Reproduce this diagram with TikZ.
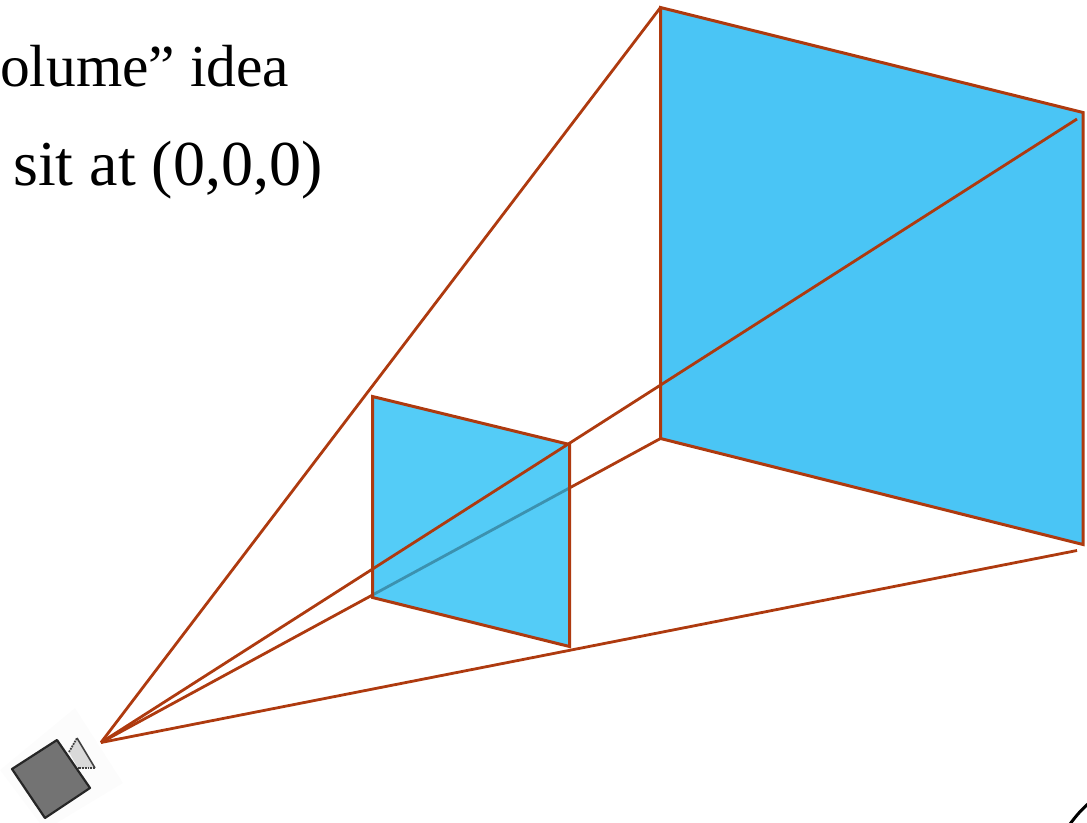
\documentclass[tikz,border=0pt]{standalone}
\usepackage{fontspec}
\setmainfont{Liberation Serif}
\definecolor{frustumline}{RGB}{174,58,15}
\definecolor{farblue}{RGB}{74,197,245}
\definecolor{nearblue}{RGB}{12,182,243}
\begin{document}
\begin{tikzpicture}[
  x=1pt, y=-1pt,
  frustum/.style={draw=frustumline, line width=3pt, line join=miter},
  ray/.style={draw=frustumline, line width=2.8pt},
  caption/.style={anchor=base west, inner sep=0pt},
  camera_body/.style={draw=black!85, fill=black!55, line width=2.2pt, line join=round},
  camera_lens/.style={fill=black!15}
]
  \useasboundingbox (0,0) rectangle (1087,822);
  \clip (0,0) rectangle (1087,822);

  % Apex and plane corners
  \coordinate (apex) at (101,742.5);
  \coordinate (n1) at (372.5,396.5);
  \coordinate (n2) at (569.5,444.5);
  \coordinate (n3) at (569.5,646.5);
  \coordinate (n4) at (372.5,597.5);
  \coordinate (f1) at (660.5,7.5);
  \coordinate (f2) at (1083,112.5);
  \coordinate (f3) at (1083,544.5);
  \coordinate (f4) at (660.5,438.5);
  \coordinate (e2) at (1077,119);
  \coordinate (e3) at (1077,550.5);

  % Captions
  \node[caption, font=\fontsize{59.5}{60}\selectfont] (line1) at (0,86) {olume” idea};
  \node[caption, font=\fontsize{64}{64}\selectfont] (line2) at (13,185) {sit at (0,0,0)};

  % Ray behind the near plane
  \draw[ray] (apex) -- (f4);

  % Planes
  \fill[nearblue, fill opacity=0.7] (n1) -- (n2) -- (n3) -- (n4) -- cycle;
  \draw[frustum] (n1) -- (n2) -- (n3) -- (n4) -- cycle;
  \draw[frustum, fill=farblue] (f1) -- (f2) -- (f3) -- (f4) -- cycle;

  % Rays in front
  \draw[ray] (apex) -- (f1);
  \draw[ray] (apex) -- (e2);
  \draw[ray] (apex) -- (e3);

  % Camera
  \fill[black!1] (75,708) -- (123,783) -- (45,830) -- (0,770) -- cycle;
  \fill[camera_lens] (69,752) -- (77,738) -- (95,768) -- (78,768) -- cycle;
  \draw[black!75, line width=1.6pt] (77,738) -- (95,768);
  \draw[black!75, line width=1.8pt, densely dotted] (95,768) -- (78,768);
  \draw[black!75, line width=1.8pt, densely dotted] (69,752) -- (77,738);
  \draw[camera_body] (12,769) -- (57,740) -- (90,788) -- (45,818) -- cycle;

  % Corner arc
  \draw[black, line width=3pt] (1070,824) .. controls (1076,816) and (1081,810) .. (1089,803);
\end{tikzpicture}
\end{document}
